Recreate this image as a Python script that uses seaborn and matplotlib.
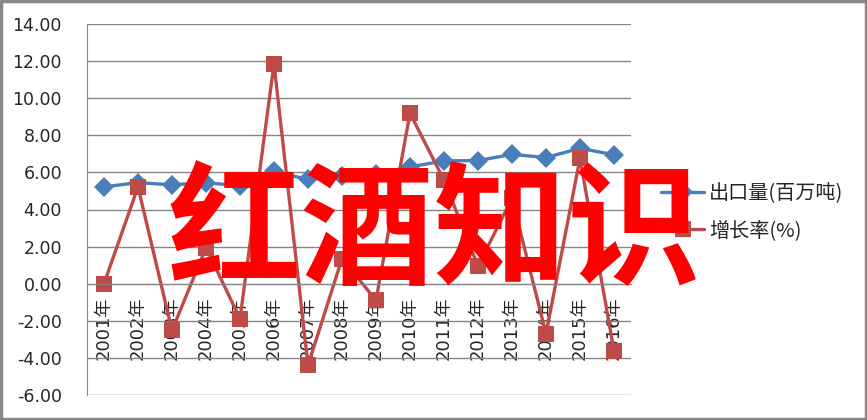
import matplotlib
matplotlib.use('Agg')
import matplotlib.pyplot as plt
from matplotlib.patches import Rectangle
from matplotlib.ticker import FixedLocator
import numpy as np
import pandas as pd
import seaborn as sns

years = ['2001年', '2002年', '2003年', '2004年', '2005年', '2006年', '2007年', '2008年',
         '2009年', '2010年', '2011年', '2012年', '2013年', '2014年', '2015年', '2016年']
export_vol = [5.22, 5.45, 5.33, 5.45, 5.27, 6.05, 5.62, 5.82,
              5.90, 6.30, 6.62, 6.64, 6.97, 6.80, 7.30, 6.95]
growth = [0.0, 5.22, -2.52, 1.95, -1.89, 11.85, -4.40, 1.35,
          -0.89, 9.19, 5.58, 0.95, 4.60, -2.70, 6.76, -3.64]
series_names = ['出口量(百万吨)', '增长率(%)']
watermark = '红酒知识'

df = pd.DataFrame({'年份': years * 2,
                   '值': export_vol + growth,
                   '系列': [series_names[0]] * len(years) + [series_names[1]] * len(years)})

sns.set_style('white')
plt.rcParams['font.family'] = ['DejaVu Sans', 'Noto Sans CJK SC']

fig = plt.figure(figsize=(8.67, 4.2), dpi=100)
ax = fig.add_axes([87 / 867, 1 - 395 / 420, (631 - 87) / 867, (395 - 24) / 420])

blue = '#4A7EBB'
red = '#BE4B48'
sns.lineplot(data=df, x='年份', y='值', hue='系列', style='系列',
             palette=[blue, red], markers=['D', 's'], dashes=False,
             markersize=10, markeredgewidth=0, linewidth=2.4, ax=ax, sort=False)
for ln in ax.lines:
    if ln.get_marker() == 's':
        ln.set_markersize(12)

ax.set_xlim(-0.5, len(years) - 0.5)
ax.set_ylim(-6, 14)
ax.set_yticks(np.arange(-6, 15, 2))
ax.set_yticklabels([f'{v:.2f}' for v in np.arange(-6, 15, 2)], fontsize=12.5)
ax.yaxis.grid(True, color='#868686', linewidth=1)
ax.set_axisbelow(True)
ax.set_xlabel('')
ax.set_ylabel('')

for s in ['top', 'right']:
    ax.spines[s].set_visible(False)
ax.spines['left'].set_color('#868686')
ax.spines['bottom'].set_color('#868686')
ax.spines['bottom'].set_position(('data', 0))
ax.tick_params(axis='y', length=6, color='#868686', pad=12)

ax.set_xticks(range(len(years)))
ax.set_xticklabels(years, rotation=90, fontsize=13,
                   family=['DejaVu Sans', 'Noto Sans CJK SC'])
ax.tick_params(axis='x', which='major', length=0, pad=9)
ax.xaxis.set_minor_locator(FixedLocator(np.arange(-0.5, len(years), 1)))
ax.tick_params(axis='x', which='minor', length=5, color='#868686', direction='out')

ax.get_legend().remove()
handles, labels = ax.get_legend_handles_labels()
for h in handles:
    if h.get_marker() == 's':
        h.set_markersize(12)
fig.legend(handles, labels, loc='center left', bbox_to_anchor=(661 / 867, 1 - 212 / 420),
           frameon=False, prop={'family': ['Noto Sans CJK SC'], 'size': 14.5},
           handlelength=2.15, handletextpad=0.25, labelspacing=0.8,
           borderaxespad=0, borderpad=0)

fig.text(434 / 867, 1 - 235 / 420, watermark, color='#FF0000', fontsize=96,
         fontweight='bold', family=['Noto Sans CJK SC'], ha='center', va='center',
         zorder=10)

fig.patches.append(Rectangle((0.0015, 0.003), 0.997, 0.994, transform=fig.transFigure,
                             fill=False, edgecolor='#888888', linewidth=2.5))

fig.savefig('out.png', dpi=100)
